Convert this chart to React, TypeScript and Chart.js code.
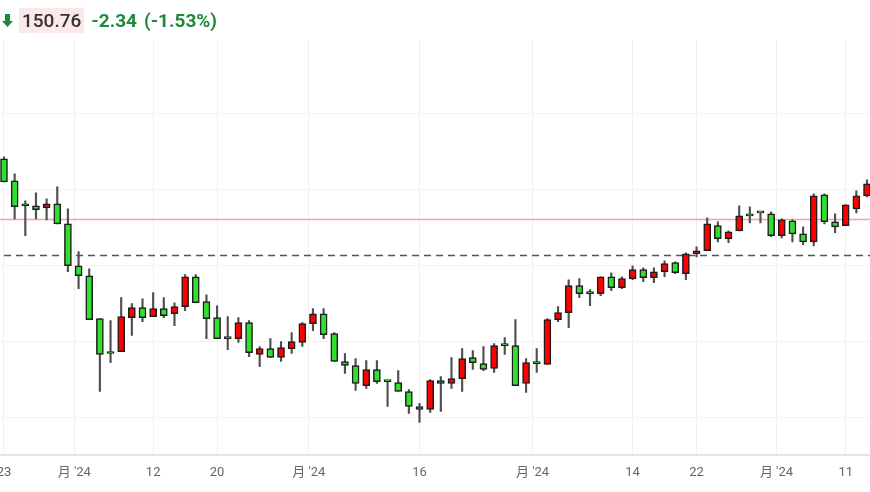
import React, { useEffect, useRef } from "react";
import { Chart, registerables } from "chart.js";

Chart.register(...registerables);

// OHLC series (one candle per trading session)
const openValues = [
  153.63, 152.47, 151.16, 151.16, 151.05, 151.26, 150.21, 148.0, 147.47, 145.21,
  143.37, 143.47, 145.26, 145.79, 145.32, 145.74, 145.47, 145.84, 147.42, 146.11,
  145.26, 144.16, 144.16, 145.0, 143.32, 143.63, 143.16, 143.63, 143.95, 144.95,
  145.47, 144.42, 142.95, 142.74, 141.68, 142.53, 141.89, 141.84, 141.37, 140.58,
  140.42, 141.95, 141.79, 142.05, 143.16, 142.84, 142.58, 143.79, 143.79, 141.79,
  142.84, 142.79, 145.16, 145.53, 146.95, 146.53, 146.53, 147.42, 146.84, 147.32,
  147.79, 147.37, 147.68, 148.16, 147.58, 148.63, 148.79, 150.11, 149.42, 149.84,
  150.63, 150.79, 150.74, 149.58, 150.37, 149.68, 149.26, 151.74, 150.32, 150.11,
  151.0, 151.68,
];
const highValues = [
  153.74, 152.84, 151.42, 151.84, 151.53, 152.16, 151.0, 148.74, 147.84, 145.21,
  145.11, 146.32, 146.0, 146.26, 146.58, 146.32, 146.05, 147.53, 147.53, 146.47,
  145.89, 145.32, 145.26, 145.11, 143.74, 144.16, 144.0, 144.47, 145.0, 145.74,
  145.74, 144.47, 143.37, 143.11, 143.0, 143.0, 141.95, 142.47, 141.47, 140.74,
  142.0, 142.16, 143.16, 143.63, 143.53, 143.74, 143.89, 144.21, 145.16, 143.11,
  143.63, 145.21, 145.84, 147.26, 147.32, 146.74, 147.42, 147.63, 147.42, 148.0,
  147.89, 147.89, 148.26, 148.21, 148.68, 149.0, 150.53, 150.32, 149.84, 151.16,
  151.11, 150.79, 150.84, 150.47, 150.42, 150.05, 151.79, 151.79, 150.74, 151.21,
  151.95, 152.53,
];
const lowValues = [
  152.42, 150.47, 149.58, 150.47, 150.42, 150.21, 147.68, 146.79, 145.16, 141.37,
  142.89, 143.47, 144.32, 145.05, 145.32, 145.26, 144.84, 145.63, 146.05, 144.16,
  144.16, 143.58, 143.95, 143.21, 142.68, 143.16, 142.95, 143.37, 143.74, 144.58,
  144.16, 142.95, 142.32, 141.42, 141.53, 141.79, 140.58, 141.37, 140.21, 139.74,
  140.26, 140.32, 141.53, 141.37, 142.53, 142.47, 142.37, 143.32, 141.68, 141.32,
  142.37, 142.79, 145.05, 144.74, 146.32, 145.89, 146.42, 146.68, 146.79, 147.26,
  147.16, 147.11, 147.42, 147.58, 147.26, 148.47, 148.79, 149.26, 149.21, 149.84,
  150.26, 150.26, 149.53, 149.47, 149.26, 149.11, 149.05, 150.21, 149.74, 150.11,
  150.79, 151.63,
];
const closeValues = [
  152.42, 151.11, 151.16, 150.95, 151.26, 150.21, 148.0, 147.47, 145.16, 143.32,
  143.37, 145.32, 145.79, 145.26, 145.74, 145.37, 145.84, 147.42, 146.05, 145.21,
  144.16, 144.16, 145.0, 143.42, 143.63, 143.16, 143.68, 144.0, 144.95, 145.47,
  144.37, 142.95, 142.74, 141.79, 142.53, 141.89, 141.89, 141.37, 140.58, 140.42,
  141.95, 141.79, 142.05, 143.11, 142.89, 142.53, 143.79, 143.79, 141.68, 142.89,
  142.84, 145.16, 145.53, 146.95, 146.53, 146.53, 147.42, 146.84, 147.32, 147.79,
  147.37, 147.68, 148.11, 147.63, 148.63, 148.79, 150.21, 149.42, 149.79, 150.63,
  150.63, 150.79, 149.58, 150.42, 149.68, 149.26, 151.68, 150.32, 150.05, 151.21,
  151.68, 152.32,
];

// x-axis ticks (session index) and labels
const tickPositions = [0, 6.6, 14, 20, 28.6, 39, 49.6, 59, 65, 72.5, 79];
const tickLabels = ["23", "月 '24", "12", "20", "月 '24", "16", "月 '24", "14", "22", "月 '24", "11"];

// horizontal grid values and reference levels
const gridValues = [140, 144, 148, 152, 156];
const referencePrice = 150.47;
const dashedLevel = 148.58;

const UP = "#ff0000";
const DOWN = "#2fe02f";
const FONT = 'Roboto, "Noto Sans CJK SC", "Noto Sans", sans-serif';

export default function App() {
  const ref = useRef<HTMLCanvasElement>(null);

  useEffect(() => {
    if (!ref.current) return;
    const idx = openValues.map((_, i) => i);
    const bodyData = idx.map((i) => ({ x: i, y: [openValues[i], closeValues[i]] }));
    const wickData = idx.map((i) => ({ x: i, y: [lowValues[i], highValues[i]] }));
    const bodyColors = idx.map((i) => (closeValues[i] > openValues[i] ? UP : DOWN));

    const refLines = {
      id: "refLines",
      beforeDatasetsDraw(chart: any) {
        const { ctx, chartArea, scales } = chart;
        const y1 = Math.round(scales.y.getPixelForValue(referencePrice)) + 0.5;
        const y2 = Math.round(scales.y.getPixelForValue(dashedLevel)) + 0.5;
        const xStart = scales.x.getPixelForValue(0);
        ctx.save();
        ctx.strokeStyle = "#f4a4a4";
        ctx.lineWidth = 1.3;
        ctx.beginPath();
        ctx.moveTo(chartArea.left, y1);
        ctx.lineTo(chartArea.right, y1);
        ctx.stroke();
        ctx.strokeStyle = "#555";
        ctx.lineWidth = 1.3;
        ctx.setLineDash([7, 5]);
        ctx.beginPath();
        ctx.moveTo(xStart, y2);
        ctx.lineTo(chartArea.right, y2);
        ctx.stroke();
        ctx.restore();
      },
    };

    const chart = new Chart(ref.current, {
      type: "bar",
      data: {
        datasets: [
          {
            data: bodyData as any,
            backgroundColor: bodyColors,
            borderColor: "#1c1c1c",
            borderWidth: 1.5,
            borderSkipped: false,
            barThickness: 7,
            minBarLength: 2,
            grouped: false,
            order: 0,
          },
          {
            data: wickData as any,
            backgroundColor: "#505050",
            borderWidth: 0,
            barThickness: 1.5,
            grouped: false,
            order: 1,
          },
        ],
      },
      options: {
        animation: false,
        responsive: true,
        maintainAspectRatio: false,
        layout: { padding: { top: 40, bottom: 1, left: 0, right: 0 } },
        plugins: { legend: { display: false }, tooltip: { enabled: false } },
        scales: {
          x: {
            type: "linear",
            min: -0.375,
            max: 81.28,
            offset: false,
            grid: { color: "#f0f0f0", drawTicks: false, lineWidth: 1, offset: false },
            border: { color: "#e1e6ec", width: 2 },
            ticks: {
              autoSkip: false,
              maxRotation: 0,
              padding: 10,
              color: "#666",
              font: { family: FONT, size: 13 },
              callback: (_v: any, i: number) => tickLabels[i] ?? "",
            },
            afterBuildTicks: (s: any) => {
              s.ticks = tickPositions.map((v) => ({ value: v }));
            },
            afterFit: (s: any) => {
              s.paddingLeft = 0;
              s.paddingRight = 0;
            },
          },
          y: {
            min: 138,
            max: 159.9,
            grid: { color: "#f3f3f3", drawTicks: false },
            border: { display: false },
            ticks: { display: false },
            afterBuildTicks: (s: any) => {
              s.ticks = gridValues.map((v) => ({ value: v }));
            },
          },
        },
      },
      plugins: [refLines],
    });
    return () => chart.destroy();
  }, []);

  return (
    <div style={{ position: "absolute", left: 0, top: 0, width: 870, height: 492, background: "#fff", overflow: "hidden" }}>
      <div style={{ position: "absolute", left: 0, top: 0, width: 870, height: 492 }}>
        <canvas ref={ref} />
      </div>
      <div
        style={{
          position: "absolute",
          left: 2,
          top: 8,
          height: 25,
          display: "flex",
          alignItems: "center",
          fontFamily: FONT,
          whiteSpace: "nowrap",
        }}
      >
        <svg width="11" height="13" viewBox="0 0 11 13" style={{ marginRight: 6 }}>
          <path d="M3 0 H8 V7 H11 L5.5 13 L0 7 H3 Z" fill="#1b8a3a" />
        </svg>
        <span style={{ background: "#fce8e8", color: "#333", padding: "2px 3px", fontWeight: 500, fontSize: 19, lineHeight: "21px" }}>150.76</span>
        <span style={{ color: "#1b8a3a", fontWeight: 700, fontSize: 19, marginLeft: 7 }}>-2.34</span>
        <span style={{ color: "#1b8a3a", fontWeight: 700, fontSize: 19, marginLeft: 7 }}>(-1.53%)</span>
      </div>
    </div>
  );
}
